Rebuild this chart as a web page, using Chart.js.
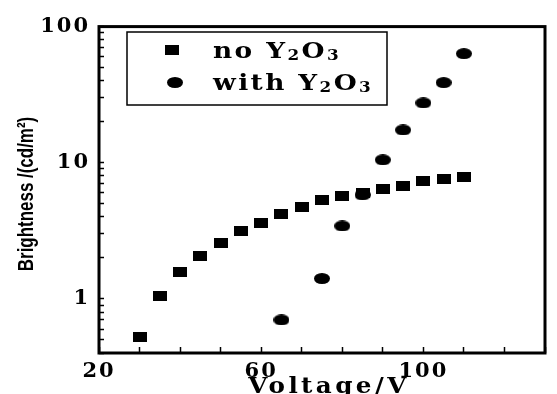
<!DOCTYPE html>
<html>
<head>
<meta charset="utf-8">
<script src="https://cdn.jsdelivr.net/npm/chart.js@4.4.1/dist/chart.umd.min.js"></script>
<style>
  body { margin: 0; background: #fff; }
</style>
</head>
<body>
<canvas id="brightnessChart" width="557" height="394"></canvas>
<script>
// data
var voltage_no = [30, 35, 40, 45, 50, 55, 60, 65, 70, 75, 80, 85, 90, 95, 100, 105, 110];
var bright_no = [0.52, 1.05, 1.58, 2.08, 2.58, 3.14, 3.63, 4.21, 4.72, 5.29, 5.74, 6.03, 6.44, 6.76, 7.33, 7.57, 7.83];
var voltage_with = [65, 75, 80, 85, 90, 95, 100, 105, 110];
var bright_with = [0.70, 1.41, 3.43, 5.8, 10.5, 17.4, 27.5, 38.8, 63.3];

var x_labels = [20, 60, 100];
var y_labels = [1, 10, 100];
var y_ticks = [0.4, 0.5, 0.6, 0.7, 0.8, 0.9, 1, 2, 3, 4, 5, 6, 7, 8, 9, 10, 20, 30, 40, 50, 60, 70, 80, 90, 100];

var serif = '"DejaVu Serif", "Liberation Serif", serif';

// marker images
var makeRect = function(w, h) {
  var c = document.createElement('canvas');
  c.width = w; c.height = h;
  var g = c.getContext('2d');
  g.fillStyle = '#000';
  g.fillRect(0, 0, w, h);
  return c;
};
var makeEllipse = function(w, h) {
  var c = document.createElement('canvas');
  c.width = w; c.height = h;
  var g = c.getContext('2d');
  g.fillStyle = '#000';
  g.beginPath();
  g.ellipse(w / 2, h / 2, w / 2, h / 2, 0, 0, Math.PI * 2);
  g.fill();
  return c;
};
var squareImg = makeRect(14, 10);
var dotImg = makeEllipse(16, 11);

var toPoints = function(xs, ys) {
  return xs.map(function(v, i) { return { x: v, y: ys[i] }; });
};

// draws "Y2O3" style text with subscripts (wide serif, stretched a bit)
var drawFormula = function(ctx, parts, x, y, size) {
  ctx.save();
  ctx.translate(x, y);
  ctx.scale(1.2, 1);
  var cx = 0;
  parts.forEach(function(p) {
    if (p.sub) {
      ctx.font = 'bold ' + Math.round(size * 0.62) + 'px ' + serif;
      ctx.fillText(p.t, cx, 2);
    } else {
      ctx.font = 'bold ' + size + 'px ' + serif;
      ctx.fillText(p.t, cx, 0);
    }
    cx += ctx.measureText(p.t).width;
  });
  ctx.restore();
};

var decorPlugin = {
  id: 'decor',
  beforeDraw: function(chart) {
    chart.ctx.letterSpacing = '2px';
  },
  afterDraw: function(chart) {
    var ctx = chart.ctx;
    var a = chart.chartArea;
    ctx.save();
    // frame
    ctx.strokeStyle = '#000';
    ctx.lineWidth = 3;
    ctx.strokeRect(a.left, a.top, a.right - a.left, a.bottom - a.top);

    // legend box
    ctx.lineWidth = 1.5;
    ctx.strokeRect(127, 32, 260, 73);
    ctx.drawImage(squareImg, 165, 45);
    ctx.drawImage(dotImg, 167, 77);
    ctx.fillStyle = '#000';
    ctx.textBaseline = 'alphabetic';
    ctx.textAlign = 'left';
    ctx.letterSpacing = '2px';
    drawFormula(ctx, [{ t: 'no Y' }, { t: '2', sub: true }, { t: 'O' }, { t: '3', sub: true }], 213, 58, 22);
    drawFormula(ctx, [{ t: 'with Y' }, { t: '2', sub: true }, { t: 'O' }, { t: '3', sub: true }], 213, 90, 22);

    // x title
    ctx.save();
    ctx.textAlign = 'center';
    ctx.letterSpacing = '3px';
    ctx.font = 'bold 22px ' + serif;
    ctx.translate(329, 393);
    ctx.scale(1.12, 1);
    ctx.fillText('Voltage/V', 0, 0);
    ctx.restore();

    // y title, condensed
    ctx.letterSpacing = '0px';
    ctx.translate(27, 194);
    ctx.rotate(-Math.PI / 2);
    ctx.scale(0.77, 1);
    ctx.font = 'bold 22px "Liberation Sans Narrow", "Liberation Sans", sans-serif';
    ctx.textBaseline = 'middle';
    ctx.textAlign = 'center';
    ctx.fillText('Brightness /(cd/m\u00b2)', 0, 0);
    ctx.restore();
  }
};

var chart = new Chart(document.getElementById('brightnessChart').getContext('2d'), {
  type: 'scatter',
  data: {
    datasets: [
      {
        label: 'no Y2O3',
        data: toPoints(voltage_no, bright_no),
        pointStyle: squareImg,
        backgroundColor: '#000',
        borderColor: '#000'
      },
      {
        label: 'with Y2O3',
        data: toPoints(voltage_with, bright_with),
        pointStyle: dotImg,
        backgroundColor: '#000',
        borderColor: '#000'
      }
    ]
  },
  options: {
    responsive: false,
    animation: false,
    layout: { padding: { left: 0, right: 5, top: 15, bottom: 0 } },
    plugins: {
      legend: { display: false },
      tooltip: { enabled: false }
    },
    scales: {
      x: {
        type: 'linear',
        min: 20,
        max: 130,
        border: { display: false },
        grid: { drawOnChartArea: false, drawTicks: true, tickLength: -6, tickWidth: 1.5, tickColor: '#000' },
        ticks: {
          stepSize: 10,
          padding: 12,
          color: '#000',
          maxRotation: 0,
          autoSkip: false,
          font: { family: serif, size: 21, weight: 'bold' },
          callback: function(v) { return x_labels.indexOf(v) >= 0 ? String(v) : ''; }
        },
        afterFit: function(scale) { scale.height = 41; }
      },
      y: {
        type: 'logarithmic',
        min: 0.4,
        max: 100,
        border: { display: false },
        grid: { drawOnChartArea: false, drawTicks: true, tickLength: -5, tickWidth: 1.5, tickColor: '#000' },
        ticks: {
          padding: 14,
          color: '#000',
          autoSkip: false,
          font: { family: serif, size: 21, weight: 'bold' },
          callback: function(v) { return y_labels.indexOf(v) >= 0 ? String(v) : ''; }
        },
        afterBuildTicks: function(scale) {
          scale.ticks = y_ticks.map(function(v) { return { value: v, major: y_labels.indexOf(v) >= 0 }; });
        },
        afterFit: function(scale) { scale.width = 99; }
      }
    }
  },
  plugins: [decorPlugin]
});
</script>
</body>
</html>
